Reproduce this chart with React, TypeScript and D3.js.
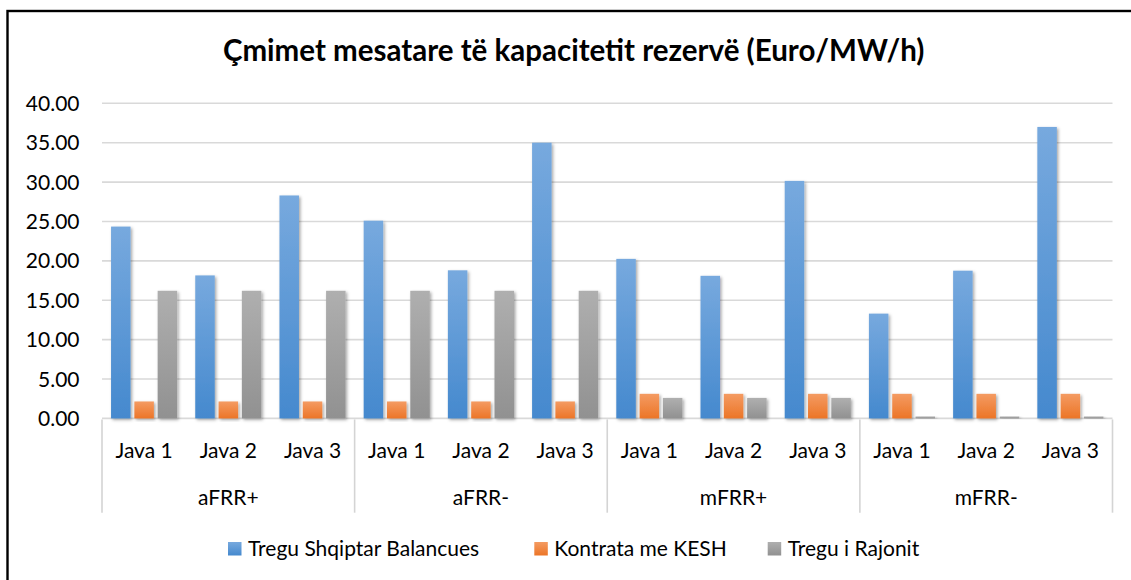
import React from "react";
import * as d3 from "d3";

const groups = ["aFRR+", "aFRR-", "mFRR+", "mFRR-"];
const weeks = ["Java 1", "Java 2", "Java 3"];
const seriesNames = ["Tregu Shqiptar Balancues", "Kontrata me KESH", "Tregu i Rajonit"];
const yTicks = [0, 5, 10, 15, 20, 25, 30, 35, 40];

// values per category (group x week), in order aFRR+ J1..J3, aFRR- J1..J3, mFRR+ ..., mFRR- ...
const treguShqiptar = [24.35, 18.15, 28.3, 25.1, 18.8, 35.0, 20.25, 18.1, 30.15, 13.3, 18.75, 37.0];
const kontrataKesh = [2.15, 2.15, 2.15, 2.15, 2.15, 2.15, 3.12, 3.12, 3.12, 3.12, 3.12, 3.12];
const treguRajonit = [16.2, 16.2, 16.2, 16.2, 16.2, 16.2, 2.6, 2.6, 2.6, 0.24, 0.24, 0.24];

const seriesValues = [treguShqiptar, kontrataKesh, treguRajonit];
const gradIds = ["gBlue", "gOrange", "gGray"];

const FONT = "Lato, 'Open Sans', sans-serif";

export default function App() {
  const W = 1131;
  const H = 580;
  const left = 102;
  const right = 1112.5;
  const y0 = 418.4;
  const yTop = 103.3;
  const axisBottom = 512.7;

  const categories = groups.flatMap((g) => weeks.map((w) => `${g}|${w}`));
  const x = d3.scaleBand<string>().domain(categories).range([left, right]).padding(0);
  const xg = d3.scaleBand<string>().domain(groups).range([left, right]).padding(0);
  const x1 = d3
    .scaleBand<string>()
    .domain(seriesNames)
    .range([0, x.bandwidth()])
    .paddingInner(0.163)
    .paddingOuter(0.388);
  const y = d3.scaleLinear().domain([0, 40]).range([y0, yTop]);

  const legendItems = [
    { name: seriesNames[0], grad: gradIds[0], sx: 228 },
    { name: seriesNames[1], grad: gradIds[1], sx: 534.3 },
    { name: seriesNames[2], grad: gradIds[2], sx: 767.7 },
  ];

  return (
    <svg
      width={W}
      height={H}
      style={{ position: "absolute", left: 0, top: 0, background: "#fff" }}
      fontFamily={FONT}
    >
      <defs>
        <linearGradient id="gBlue" x1="0" y1="0" x2="0" y2="1">
          <stop offset="0" stopColor="#77A9DE" />
          <stop offset="1" stopColor="#4589CE" />
        </linearGradient>
        <linearGradient id="gOrange" x1="0" y1="0" x2="0" y2="1">
          <stop offset="0" stopColor="#F49B62" />
          <stop offset="1" stopColor="#EC7527" />
        </linearGradient>
        <linearGradient id="gGray" x1="0" y1="0" x2="0" y2="1">
          <stop offset="0" stopColor="#AFAFAF" />
          <stop offset="1" stopColor="#919191" />
        </linearGradient>
        <filter id="shadow" x="-50%" y="-20%" width="200%" height="140%">
          <feDropShadow dx="1.5" dy="1.5" stdDeviation="1.6" floodColor="#000" floodOpacity="0.35" />
        </filter>
      </defs>
      <rect x={0} y={0} width={W} height={H} fill="#fff" />
      {/* outer border (clipped on right & bottom) */}
      <rect x={7.5} y={11} width={1300} height={800} fill="none" stroke="#000" strokeWidth={2.4} />

      {/* title */}
      <text
        x={573.7}
        y={60.5}
        textAnchor="middle"
        fontWeight="bold"
        fontSize={29.5}
        fill="#000"
      >
        Çmimet mesatare të kapacitetit rezervë (Euro/MW/h)
      </text>

      {/* gridlines */}
      {yTicks.map((t) => (
        <line key={t} x1={left} x2={right} y1={y(t)} y2={y(t)} stroke="#D9D9D9" strokeWidth={1.6} />
      ))}
      {/* y labels */}
      {yTicks.map((t) => (
        <text key={"l" + t} x={79.5} y={y(t) + 7.6} textAnchor="end" fontSize={21} fill="#000">
          {t.toFixed(2)}
        </text>
      ))}

      {/* bars */}
      {categories.map((c, i) => (
        <g key={c}>
          {seriesNames.map((s, si) => {
            const v = seriesValues[si][i];
            const bx = (x(c) as number) + (x1(s) as number);
            return (
              <rect
                key={s}
                x={bx}
                y={y(v)}
                width={x1.bandwidth()}
                height={y0 - y(v)}
                fill={`url(#${gradIds[si]})`}
                filter="url(#shadow)"
              />
            );
          })}
        </g>
      ))}

      {/* category axis */}
      <line x1={left} x2={right} y1={y0 + 1} y2={y0 + 1} stroke="#C9C9C9" strokeWidth={1.6} filter="url(#shadow)" />
      {[...groups.map((g) => xg(g) as number), right].map((gx, i) => (
        <line key={"sep" + i} x1={gx} x2={gx} y1={y0 + 1} y2={axisBottom} stroke="#D4D4D4" strokeWidth={1.6} />
      ))}
      {categories.map((c) => (
        <text
          key={"w" + c}
          x={(x(c) as number) + x.bandwidth() / 2}
          y={458.3}
          textAnchor="middle"
          fontSize={21}
          fill="#000"
        >
          {c.split("|")[1]}
        </text>
      ))}
      {groups.map((g) => (
        <text
          key={"g" + g}
          x={(xg(g) as number) + xg.bandwidth() / 2}
          y={505}
          textAnchor="middle"
          fontSize={21}
          fill="#000"
        >
          {g}
        </text>
      ))}

      {/* legend */}
      {legendItems.map((it) => (
        <g key={it.name}>
          <rect x={it.sx} y={542} width={13.5} height={13.5} fill={`url(#${it.grad})`} />
          <text x={it.sx + 20} y={555.7} fontSize={21} fill="#000">
            {it.name}
          </text>
        </g>
      ))}
    </svg>
  );
}
